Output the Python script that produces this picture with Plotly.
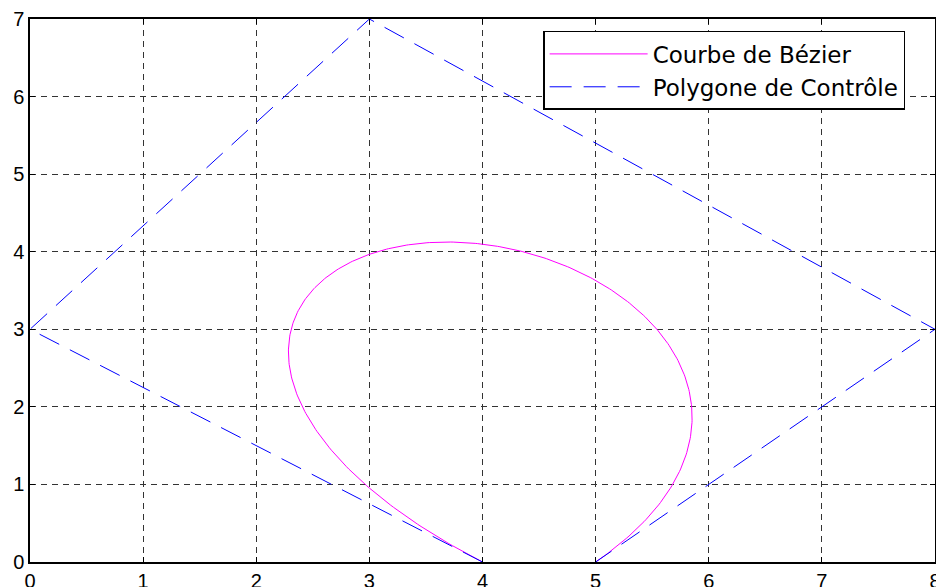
import numpy as np
import plotly.graph_objects as go
from math import comb

# Control polygon (points of the Bézier curve)
ctrl_x = [4, 0, 3, 8, 5]
ctrl_y = [0, 3, 7, 3, 0]

x_ticks = [0, 1, 2, 3, 4, 5, 6, 7, 8]
y_ticks = [0, 1, 2, 3, 4, 5, 6, 7]

# Bézier curve evaluated from the control points (Bernstein basis)
n = len(ctrl_x) - 1
t = np.linspace(0, 1, 400)
bx = sum(comb(n, i) * (1 - t) ** (n - i) * t ** i * ctrl_x[i] for i in range(n + 1))
by = sum(comb(n, i) * (1 - t) ** (n - i) * t ** i * ctrl_y[i] for i in range(n + 1))

fig = go.Figure()
fig.add_trace(go.Scatter(x=bx, y=by, mode="lines", name="Courbe de Bézier",
                         line=dict(color="#FF00FF", width=1)))
fig.add_trace(go.Scatter(x=ctrl_x, y=ctrl_y, mode="lines", name="Polygone de Contrôle",
                         line=dict(color="#0000FF", width=1, dash="22px,12px")))

axis_common = dict(showgrid=True, gridcolor="#333333", griddash="6px,5px", gridwidth=1,
                   showline=True, linecolor="black", linewidth=1.5, mirror="ticks",
                   ticks="inside", ticklen=5, tickcolor="black", zeroline=False,
                   ticklabeloverflow="allow",
                   tickfont=dict(family="Liberation Sans, Arial", size=20, color="black"))

fig.update_xaxes(range=[0, 8], tickvals=x_ticks, ticklabelstandoff=0, **axis_common)
fig.update_yaxes(range=[0, 7], tickvals=y_ticks, **axis_common)

fig.update_layout(
    width=936, height=587,
    margin=dict(l=30, r=1, t=19, b=25, autoexpand=False),
    paper_bgcolor="white", plot_bgcolor="white",
    font=dict(family="Liberation Sans, Arial", size=20, color="black"),
    showlegend=True,
    legend=dict(x=0.567, y=0.978, xanchor="left", yanchor="top",
                bgcolor="white", bordercolor="black", borderwidth=1.5,
                font=dict(family="DejaVu Sans", size=23), tracegroupgap=0, itemwidth=98),
)

fig.write_html("out.html", config={"displayModeBar": False},
               post_script="document.body.style.margin='0';document.body.style.overflow='hidden';")
